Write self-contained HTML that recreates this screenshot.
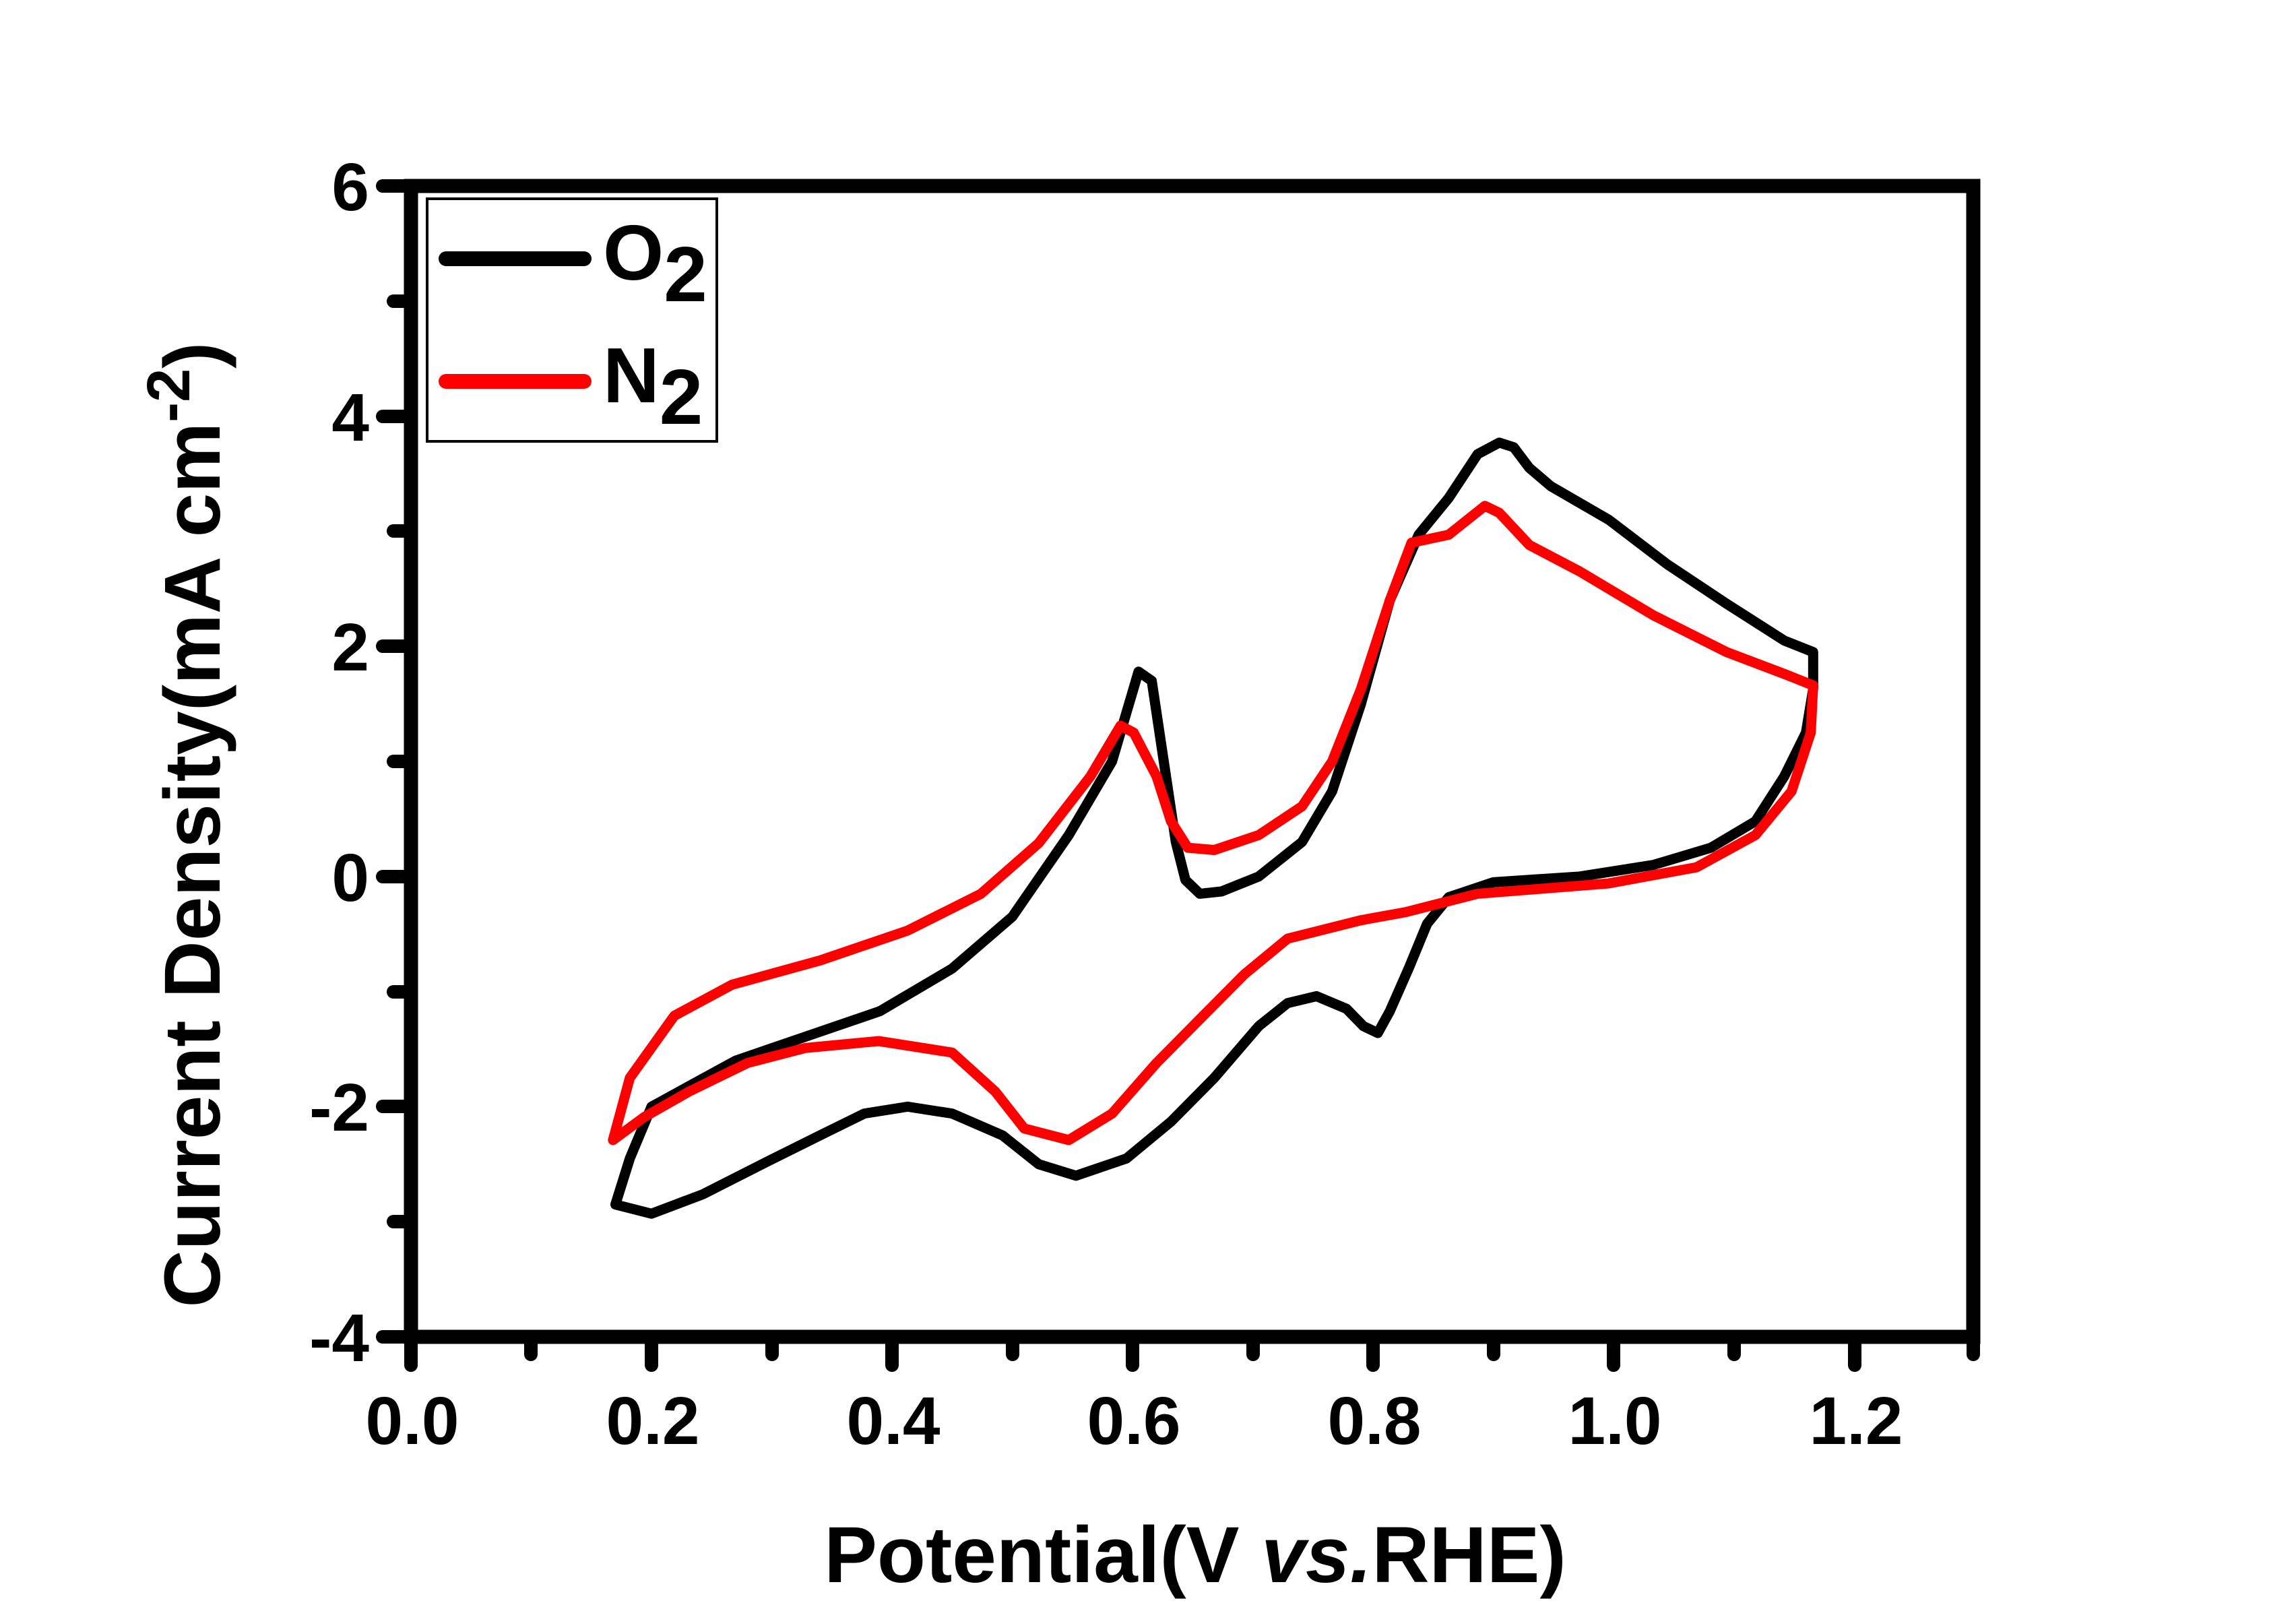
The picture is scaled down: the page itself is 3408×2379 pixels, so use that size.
<!DOCTYPE html>
<html><head><meta charset="utf-8"><style>
html,body{margin:0;padding:0;background:#fff;}
svg{display:block;}
text{font-family:"Liberation Sans",Arial,sans-serif;font-weight:bold;fill:#000;}
</style></head><body>
<svg width="3408" height="2379" viewBox="0 0 3408 2379" xmlns="http://www.w3.org/2000/svg">
<rect width="3408" height="2379" fill="#fff"/>
<g stroke="#000" stroke-width="20" stroke-linecap="round">
<line x1="610" y1="1984" x2="610" y2="2026"/>
<line x1="788" y1="1984" x2="788" y2="2010"/>
<line x1="967" y1="1984" x2="967" y2="2026"/>
<line x1="1146" y1="1984" x2="1146" y2="2010"/>
<line x1="1324" y1="1984" x2="1324" y2="2026"/>
<line x1="1503" y1="1984" x2="1503" y2="2010"/>
<line x1="1681" y1="1984" x2="1681" y2="2026"/>
<line x1="1860" y1="1984" x2="1860" y2="2010"/>
<line x1="2038" y1="1984" x2="2038" y2="2026"/>
<line x1="2217" y1="1984" x2="2217" y2="2010"/>
<line x1="2395" y1="1984" x2="2395" y2="2026"/>
<line x1="2574" y1="1984" x2="2574" y2="2010"/>
<line x1="2753" y1="1984" x2="2753" y2="2026"/>
<line x1="2929" y1="1984" x2="2929" y2="2010"/>
<line x1="610" y1="276" x2="568" y2="276"/>
<line x1="610" y1="447" x2="584" y2="447"/>
<line x1="610" y1="618" x2="568" y2="618"/>
<line x1="610" y1="788" x2="584" y2="788"/>
<line x1="610" y1="959" x2="568" y2="959"/>
<line x1="610" y1="1130" x2="584" y2="1130"/>
<line x1="610" y1="1301" x2="568" y2="1301"/>
<line x1="610" y1="1472" x2="584" y2="1472"/>
<line x1="610" y1="1642" x2="568" y2="1642"/>
<line x1="610" y1="1813" x2="584" y2="1813"/>
<line x1="610" y1="1984" x2="568" y2="1984"/>
</g>
<rect x="610" y="276" width="2319" height="1708" fill="none" stroke="#000" stroke-width="21"/>
<g font-size="100" text-anchor="middle">
<text x="612" y="2143">0.0</text>
<text x="969" y="2143">0.2</text>
<text x="1326" y="2143">0.4</text>
<text x="1683" y="2143">0.6</text>
<text x="2040" y="2143">0.8</text>
<text x="2397" y="2143">1.0</text>
<text x="2755" y="2143">1.2</text>
</g>
<g font-size="100" text-anchor="end">
<text x="548" y="312">6</text>
<text x="548" y="654">4</text>
<text x="548" y="995">2</text>
<text x="548" y="1337">0</text>
<text x="548" y="1678">-2</text>
<text x="548" y="2020">-4</text>
</g>
<text x="1774" y="2348" font-size="118" text-anchor="middle">Potential(V <tspan font-style="italic">vs.</tspan>RHE)</text>
<text transform="translate(326,1224) rotate(-90)" font-size="118" text-anchor="middle">Current Density(mA cm<tspan dy="-45" font-size="90">-2</tspan><tspan dy="45">)</tspan></text>
<rect x="634" y="295" width="430" height="360" fill="#fff" stroke="#000" stroke-width="4"/>
<line x1="662" y1="384" x2="867" y2="384" stroke="#000" stroke-width="22" stroke-linecap="round"/>
<line x1="662" y1="566" x2="867" y2="566" stroke="#f00" stroke-width="22" stroke-linecap="round"/>
<text x="895" y="415" font-size="116">O<tspan dy="32">2</tspan></text>
<text x="895" y="597" font-size="116">N<tspan dy="32">2</tspan></text>
<g transform="matrix(1785 0 0 -170.8 610 1300.8)" fill="none" stroke-linejoin="round" stroke-linecap="round">
<path vector-effect="non-scaling-stroke" stroke="#000" stroke-width="15" d="M0.17,-2.85 L0.182,-2.45 L0.2,-2.0 L0.27,-1.6 L0.39,-1.17 L0.45,-0.8 L0.5,-0.35 L0.547,0.36 L0.583,1.0 L0.605,1.78 L0.616,1.7 L0.626,1.0 L0.636,0.3 L0.644,-0.03 L0.656,-0.15 L0.674,-0.13 L0.705,0 L0.741,0.3 L0.766,0.74 L0.79,1.5 L0.814,2.4 L0.838,2.97 L0.863,3.29 L0.887,3.67 L0.905,3.77 L0.917,3.73 L0.93,3.55 L0.948,3.39 L0.996,3.1 L1.045,2.71 L1.094,2.37 L1.142,2.05 L1.166,1.95 L1.166,1.63 L1.16,1.25 L1.142,0.87 L1.118,0.48 L1.081,0.25 L1.033,0.1 L0.972,0 L0.9,-0.05 L0.863,-0.18 L0.845,-0.41 L0.83,-0.79 L0.814,-1.17 L0.804,-1.36 L0.792,-1.3 L0.778,-1.15 L0.753,-1.04 L0.729,-1.1 L0.705,-1.3 L0.668,-1.75 L0.632,-2.13 L0.595,-2.45 L0.553,-2.6 L0.522,-2.5 L0.492,-2.25 L0.45,-2.06 L0.413,-2.0 L0.377,-2.06 L0.34,-2.25 L0.292,-2.5 L0.243,-2.76 L0.2,-2.93 L0.17,-2.85 Z"/>
<path vector-effect="non-scaling-stroke" stroke="#f00" stroke-width="15" d="M0.168,-2.29 L0.182,-1.75 L0.219,-1.21 L0.267,-0.94 L0.34,-0.73 L0.413,-0.47 L0.474,-0.15 L0.522,0.29 L0.565,0.87 L0.59,1.31 L0.601,1.25 L0.62,0.87 L0.632,0.48 L0.646,0.25 L0.668,0.23 L0.705,0.36 L0.741,0.61 L0.766,1.0 L0.79,1.63 L0.814,2.4 L0.832,2.9 L0.863,2.97 L0.893,3.22 L0.905,3.16 L0.93,2.88 L0.972,2.65 L1.033,2.27 L1.094,1.95 L1.142,1.76 L1.166,1.66 L1.164,1.25 L1.148,0.74 L1.118,0.36 L1.069,0.08 L0.996,-0.06 L0.887,-0.15 L0.827,-0.31 L0.79,-0.38 L0.729,-0.54 L0.693,-0.85 L0.656,-1.24 L0.62,-1.62 L0.583,-2.06 L0.547,-2.29 L0.51,-2.19 L0.486,-1.87 L0.45,-1.53 L0.389,-1.43 L0.328,-1.49 L0.28,-1.62 L0.231,-1.87 L0.194,-2.09 L0.168,-2.29 Z"/>
</g>
</svg>
</body></html>
